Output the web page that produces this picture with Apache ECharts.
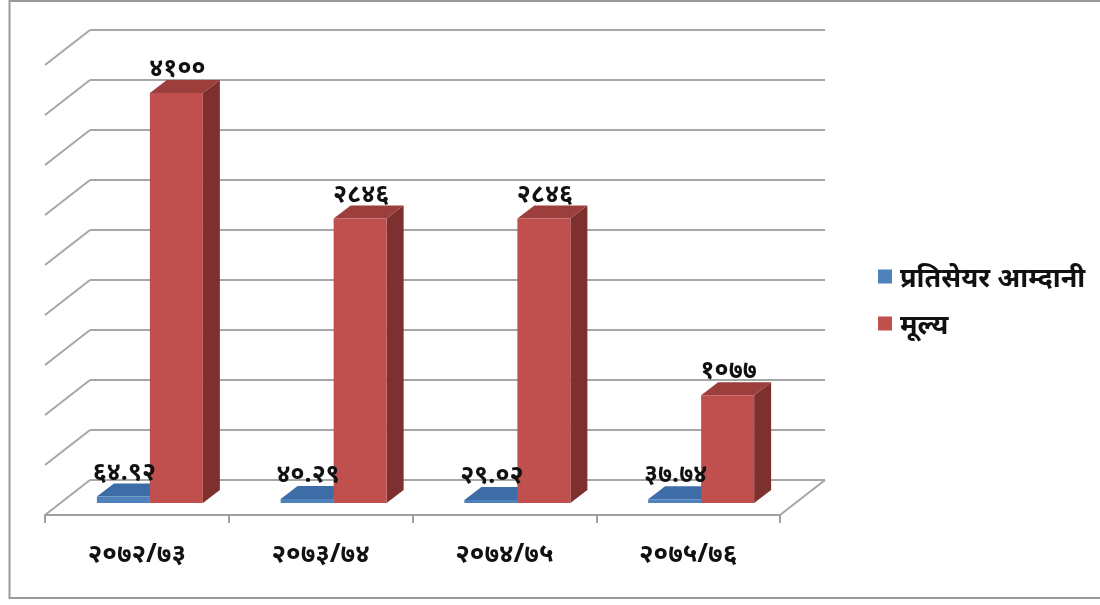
<!DOCTYPE html>
<html><head><meta charset="utf-8">
<style>html,body{margin:0;padding:0;background:#fff}#c{width:1100px;height:605px}</style>
<script src="https://cdn.jsdelivr.net/npm/echarts@6/dist/echarts.min.js"></script>
</head><body><div id="c"></div>
<script>
const categories = ['२०७२/७३','२०७३/७४','२०७४/७५','२०७५/७६'];
const epsValues = [64.92, 40.29, 29.02, 37.74];
const priceValues = [4100, 2846, 2846, 1077];
const yTicks = [0,500,1000,1500,2000,2500,3000,3500,4000,4500];
const seriesNames = ['प्रतिसेयर आम्दानी','मूल्य'];

const FONT = '"Noto Sans","Noto Sans Devanagari","Lohit Devanagari",FreeSerif,"DejaVu Sans",sans-serif';
const WALL = {dx:45, dy:-35};      // floor depth
const BAR = {dx:17, dy:-13, shiftX:13, shiftY:-12, w:53};
const nep = s => String(s).replace(/\d/g, d => '०१२३४५६७८९'[d]);
const fmt = (idx, arr) => nep(arr[idx]);

function bar3d(colors, side, z2, labels) {
  return function (params, api) {
    const idx = api.value(0), v = api.value(1);
    const top = api.coord([idx, v]), base = api.coord([idx, 0]);
    const x0 = top[0] + BAR.shiftX + (side < 0 ? -BAR.w : 0), x1 = x0 + BAR.w;
    const yT = top[1] + BAR.shiftY, yB = base[1] + BAR.shiftY;
    const d = BAR;
    return {type:'group', children:[
      {type:'polygon', z2, shape:{points:[[x1,yT],[x1+d.dx,yT+d.dy],[x1+d.dx,yB+d.dy],[x1,yB]]}, style:{fill:colors[2]}},
      {type:'polygon', z2, shape:{points:[[x0,yT],[x0+d.dx,yT+d.dy],[x1+d.dx,yT+d.dy],[x1,yT]]}, style:{fill:colors[1]}},
      {type:'rect', z2, shape:{x:x0,y:yT,width:BAR.w,height:yB-yT}, style:{fill:colors[0]}},
      {type:'text', z2:20, style:{text:fmt(idx,labels), x:(x0+x1)/2+1, y:yT-24, align:'center', verticalAlign:'middle',
        font:'bold 25px '+FONT, fill:'#111'}}
    ]};
  };
}

const chart = echarts.init(document.getElementById('c'), null, {renderer:'canvas'});
chart.setOption({
  animation:false, backgroundColor:'#fff',
  graphic:[{type:'polyline', z:-10, shape:{points:[[1100,1],[9.5,1],[9.5,598],[1100,598]]}, style:{fill:null,stroke:'#9a9a9a',lineWidth:2}}],
  grid:[
    {left:90, top:30, width:735, height:450},
    {left:45, top:65, width:735, height:450}
  ],
  xAxis:[
    {gridIndex:0, type:'category', data:categories, show:false},
    {gridIndex:1, type:'category', data:categories,
      axisLine:{show:true,lineStyle:{color:'#a0a0a0',width:2}},
      axisTick:{show:true,length:8,lineStyle:{color:'#a0a0a0',width:2}},
      splitLine:{show:false},
      axisLabel:{margin:27,fontFamily:FONT,fontSize:26,fontWeight:'bold',color:'#111'}}
  ],
  yAxis:[
    {gridIndex:0, type:'value', min:0, max:4500, interval:500,
      axisLine:{show:false}, axisTick:{show:false}, axisLabel:{show:false},
      splitLine:{show:true,lineStyle:{color:'#a6a6a6',width:2}}},
    {gridIndex:1, type:'value', min:0, max:4500, interval:500, show:false, splitLine:{show:false}}
  ],
  legend:{orient:'vertical', left:878, top:266, padding:0, itemWidth:14, itemHeight:14, itemGap:20, icon:'rect',
    data:seriesNames, formatter:n=>'{a|'+n+'}',
    textStyle:{rich:{a:{fontFamily:FONT,fontSize:27,fontWeight:'bold',color:'#111',padding:[6,0,0,3]}}}},
  series:[
    {type:'custom', name:'walls', xAxisIndex:1, yAxisIndex:1, silent:true, z:1, clip:false,
      data:yTicks.map(t=>[t]), encode:{y:0},
      renderItem(params, api){
        const v = api.value(0), cs = params.coordSys;
        const y = api.coord([0,v])[1];
        const kids = [{type:'line', shape:{x1:cs.x,y1:y,x2:cs.x+WALL.dx,y2:y+WALL.dy}, style:{stroke:'#a6a6a6',lineWidth:2}}];
        if (v===0) kids.push({type:'line', shape:{x1:cs.x+cs.width,y1:y,x2:cs.x+cs.width+WALL.dx,y2:y+WALL.dy}, style:{stroke:'#a6a6a6',lineWidth:2}});
        return {type:'group',children:kids};
      }},
    {type:'custom', name:seriesNames[0], xAxisIndex:1, yAxisIndex:1, z:3, clip:false,
      itemStyle:{color:'#4F81BD'}, data:epsValues.map((v,i)=>[i,v]), encode:{x:0,y:1},
      renderItem:bar3d(['#4F81BD','#3E6CA6','#2F5585'], -1, 1, epsValues)},
    {type:'custom', name:seriesNames[1], xAxisIndex:1, yAxisIndex:1, z:3, clip:false,
      itemStyle:{color:'#C0504D'}, data:priceValues.map((v,i)=>[i,v]), encode:{x:0,y:1},
      renderItem:bar3d(['#C0504D','#9C3E3B','#7D302E'], 1, 5, priceValues)}
  ]
});
</script></body></html>
